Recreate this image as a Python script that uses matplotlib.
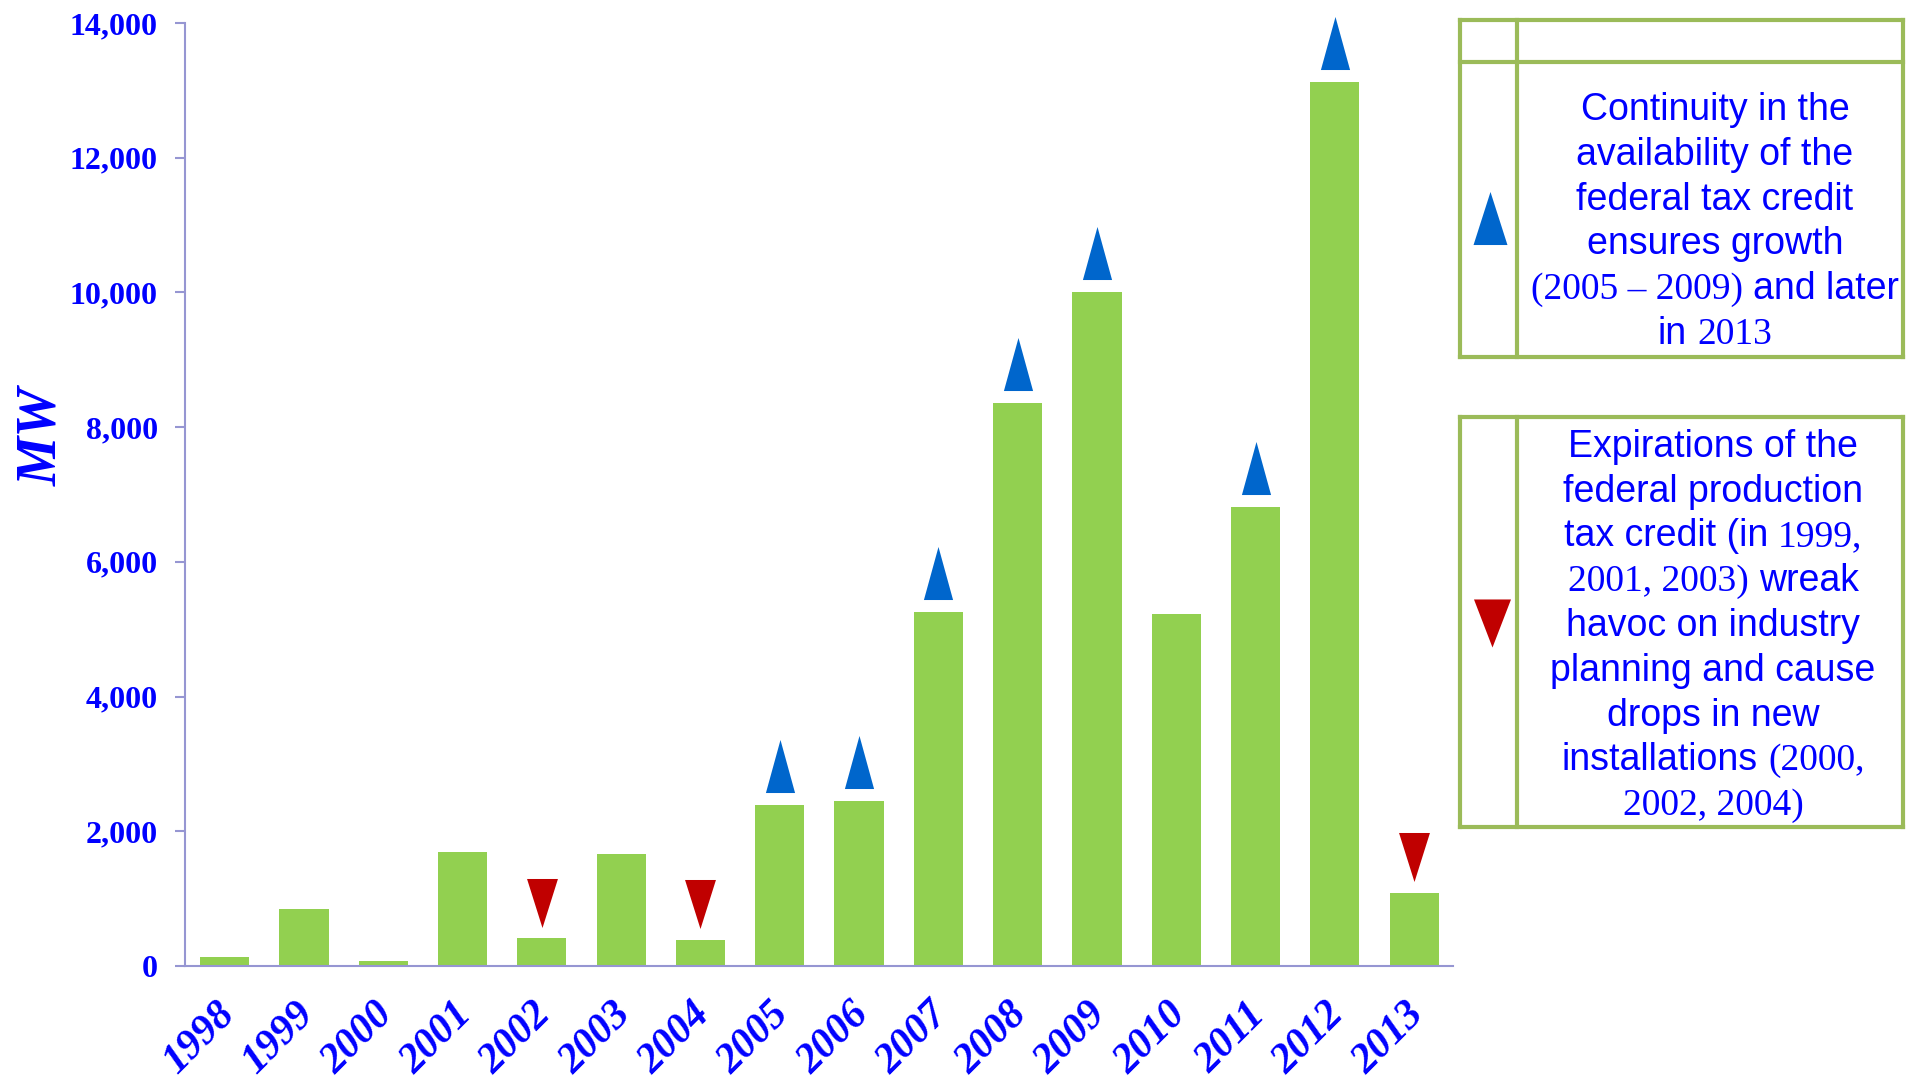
import matplotlib
matplotlib.use('Agg')
import matplotlib.pyplot as plt
from matplotlib.lines import Line2D
from matplotlib.transforms import ScaledTranslation

# annual installed capacity, MW
years = ['1998', '1999', '2000', '2001', '2002', '2003', '2004', '2005',
         '2006', '2007', '2008', '2009', '2010', '2011', '2012', '2013']
mw = [140, 850, 70, 1690, 410, 1670, 390, 2390,
      2450, 5250, 8360, 10010, 5220, 6820, 13130, 1090]
up_years = ['2005', '2006', '2007', '2008', '2009', '2011', '2012']
down_years = ['2002', '2004', '2013']
y_ticks = [0, 2000, 4000, 6000, 8000, 10000, 12000, 14000]
y_labels = ['0', '2,000', '4,000', '6,000', '8,000', '10,000', '12,000', '14,000']

W, H = 1907, 1079
BLUE = '#0000ff'
SPINE = '#9696d2'
BOXGREEN = '#9bbb59'
SANS = 'Liberation Sans'
SERIF = 'Liberation Serif'

def fx(px):
	return px / W

def fy(py):
	return 1 - py / H

fig = plt.figure(figsize=(W / 100, H / 100), dpi=100)
ax = fig.add_axes([fx(185), fy(966), (1453 - 185) / W, (966 - 23) / H])

x = list(range(len(years)))
ax.bar(x, mw, width=0.62, color='#92d050', zorder=2)
ax.set_xlim(-0.5, 15.49)
ax.set_ylim(0, 14000)

for s in ['top', 'right']:
	ax.spines[s].set_visible(False)
for s in ['left', 'bottom']:
	ax.spines[s].set_color(SPINE)
	ax.spines[s].set_linewidth(1.5)

ax.set_yticks(y_ticks)
ax.set_yticklabels(y_labels, fontfamily=SERIF, fontweight='bold', fontsize=23, color=BLUE)
ax.tick_params(axis='y', length=7.5, width=1.5, color=SPINE, pad=12)

ax.set_xticks(x)
ax.set_xticklabels(years, fontfamily=SERIF, fontweight='bold', fontstyle='italic',
                   fontsize=30, color=BLUE, rotation=45, ha='right', va='center',
                   rotation_mode='anchor')
ax.tick_params(axis='x', length=0, pad=31)
# nudge the slanted year labels a little to the right
nudge = ScaledTranslation(4 / 100, 0, fig.dpi_scale_trans)
for lab in ax.get_xticklabels():
	lab.set_transform(lab.get_transform() + nudge)

fig.text(fx(42), fy(437), 'MW', rotation=90, ha='center', va='center',
         fontfamily=SERIF, fontweight='bold', fontstyle='italic', fontsize=40, color=BLUE)

# triangles above bars (offset in pixels from the bar top)
up_marker = [(0, 1), (-0.55, -1), (0.55, -1)]
down_marker = [(-0.63, 1), (0.63, 1), (0, -1)]
up_x = [years.index(y) for y in up_years]
up_v = [mw[i] for i in up_x]
dn_x = [years.index(y) for y in down_years]
dn_v = [mw[i] for i in dn_x]
up_tr = ax.transData + ScaledTranslation(0, 39 / 100, fig.dpi_scale_trans)
dn_tr = ax.transData + ScaledTranslation(0, 35.5 / 100, fig.dpi_scale_trans)
ax.plot(up_x, up_v, ls='none', marker=up_marker, markersize=38.2, color='#0066cc',
        markeredgewidth=0, transform=up_tr, clip_on=False, zorder=3)
ax.plot(dn_x, dn_v, ls='none', marker=down_marker, markersize=35.3, color='#c00000',
        markeredgewidth=0, transform=dn_tr, clip_on=False, zorder=3)

# legend boxes
def box_line(x0, y0, x1, y1):
	fig.add_artist(Line2D([fx(x0), fx(x1)], [fy(y0), fy(y1)], transform=fig.transFigure,
	                      color=BOXGREEN, linewidth=3, solid_capstyle='projecting'))

for top, bot in [(20, 357), (417, 827)]:
	box_line(1460, top, 1903, top)
	box_line(1460, bot, 1903, bot)
	box_line(1460, top, 1460, bot)
	box_line(1903, top, 1903, bot)
	box_line(1517, top, 1517, bot)
box_line(1460, 62, 1903, 62)

fig.add_artist(Line2D([fx(1490)], [fy(218)], transform=fig.transFigure, ls='none',
                      marker=[(0, 1), (-0.64, -1), (0.64, -1)], markersize=38.2,
                      color='#0066cc', markeredgewidth=0))
fig.add_artist(Line2D([fx(1492)], [fy(623)], transform=fig.transFigure, ls='none',
                      marker=[(-0.77, 1), (0.77, 1), (0, -1)], markersize=34.6,
                      color='#c00000', markeredgewidth=0))

# box texts, mixing Arial-like words with Times-like numbers
box1_lines = [
	[("Continuity in the", SANS)],
	[("availability of the", SANS)],
	[("federal tax credit", SANS)],
	[("ensures growth", SANS)],
	[("(2005 \u2013 2009)", SERIF), ("and later", SANS)],
	[("in", SANS), ("2013", SERIF)],
]
box2_lines = [
	[("Expirations of the", SANS)],
	[("federal production", SANS)],
	[("tax credit (in", SANS), ("1999,", SERIF)],
	[("2001, 2003)", SERIF), ("wreak", SANS)],
	[("havoc on industry", SANS)],
	[("planning and cause", SANS)],
	[("drops in new", SANS)],
	[("installations", SANS), ("(2000,", SERIF)],
	[("2002, 2004)", SERIF)],
]

renderer = fig.canvas.get_renderer()
FS = 27

def measure(s, fam):
	t = fig.text(0, 0, s, fontsize=FS, fontfamily=fam)
	w = t.get_window_extent(renderer).width
	t.remove()
	return w

space_w = measure('n n', SANS) - measure('nn', SANS)

def draw_lines(lines, xc, base0, step=44.75):
	for k, parts in enumerate(lines):
		widths = [measure(s, f) for s, f in parts]
		total = sum(widths) + space_w * (len(parts) - 1)
		xp = xc - total / 2
		for (s, f), w in zip(parts, widths):
			fig.text(fx(xp), fy(base0 + k * step), s, fontsize=FS, fontfamily=f,
			         color=BLUE, ha='left', va='baseline')
			xp += w + space_w

draw_lines(box1_lines, 1715, 120)
draw_lines(box2_lines, 1713, 457)

fig.savefig('out.png', dpi=100)
